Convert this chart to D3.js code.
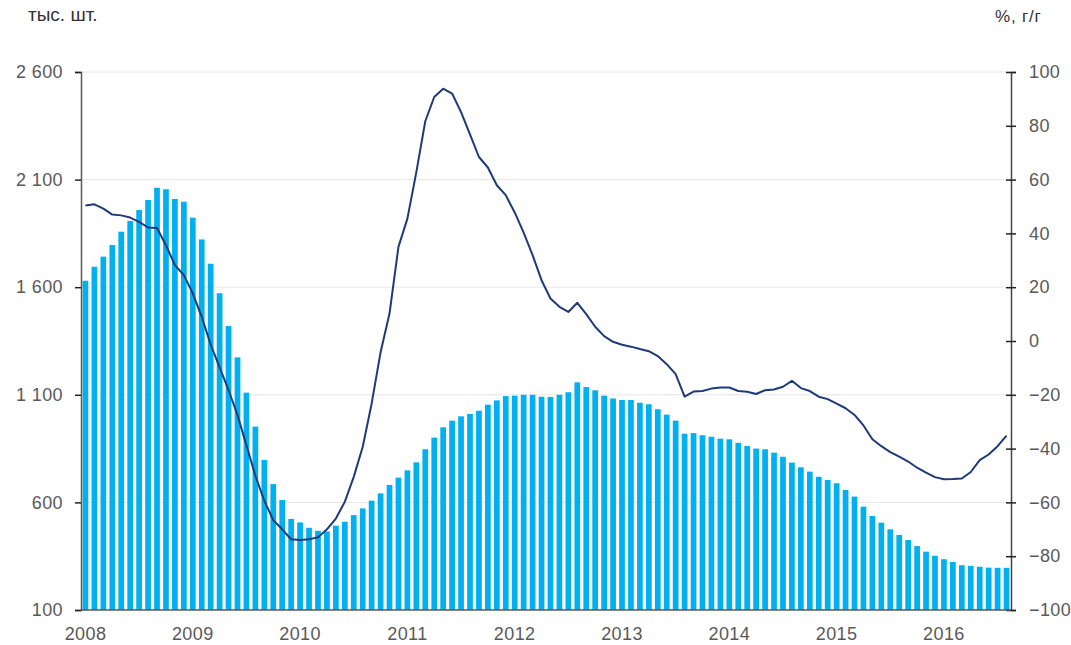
<!DOCTYPE html>
<html>
<head>
<meta charset="utf-8">
<script src="https://cdn.jsdelivr.net/npm/d3@7"></script>
<style>
  body { margin: 0; background: #fff; }
  text { font-family: "Liberation Sans", Arial, sans-serif; }
  .tick text { fill: #595959; font-size: 18px; letter-spacing: 0.4px; }
</style>
</head>
<body>
<svg id="chart" width="1071" height="645"></svg>
<script>
// monthly, 2008-01 .. 2016-08
var years = ["2008","2009","2010","2011","2012","2013","2014","2015","2016"];
var leftTicks = [100, 600, 1100, 1600, 2100, 2600];
var rightTicks = [-100, -80, -60, -40, -20, 0, 20, 40, 60, 80, 100];

// тыс. шт. (bars, left axis)
var units = [
  1630, 1695, 1742, 1796, 1858, 1908, 1959, 2005, 2062, 2055, 2010, 1997,
  1923, 1822, 1709, 1572, 1420, 1274, 1110, 952, 797, 685, 611, 523,
  507, 482, 468, 465, 492, 510, 541, 572, 608, 642, 681, 715,
  749, 786, 847, 901, 949, 980, 1000, 1011, 1026, 1054, 1074, 1094,
  1096, 1100, 1100, 1091, 1090, 1100, 1112, 1158, 1136, 1121, 1096, 1083,
  1076, 1076, 1063, 1056, 1033, 1008, 980, 919, 922, 912, 905, 896,
  893, 877, 862, 850, 847, 831, 812, 785, 763, 743, 719, 704,
  689, 658, 627, 580, 537, 506, 475, 449, 425, 397, 371, 352,
  336, 323, 308, 305, 301, 297, 296, 296
];

// %, г/г (line, right axis)
var growth = [
  50.4, 50.8, 49.2, 47.0, 46.7, 45.9, 44.3, 42.2, 42.0, 35.6, 28.2, 24.5,
  17.7, 9.0, -1.3, -9.8, -18.3, -27.5, -38.8, -50.1, -59.4, -66.6, -70.0, -73.7,
  -74.0, -73.7, -73.0, -70.0, -66.0, -59.8, -50.5, -39.4, -23.3, -4.2, 10.2, 35.0,
  45.5, 62.8, 81.7, 90.7, 93.8, 92.0, 85.1, 76.8, 68.4, 64.5, 57.9, 54.2,
  47.8, 40.3, 31.9, 22.6, 15.8, 12.7, 10.8, 14.2, 10.0, 5.3, 1.8, -0.3,
  -1.4, -2.1, -3.0, -3.8, -5.6, -8.6, -12.3, -20.7, -18.8, -18.6, -17.7, -17.3,
  -17.3, -18.6, -18.9, -19.7, -18.3, -18.0, -17.0, -14.8, -17.5, -18.6, -20.7, -21.6,
  -23.3, -25.0, -27.5, -31.4, -36.5, -39.1, -41.3, -43.0, -44.8, -47.1, -48.9, -50.6,
  -51.4, -51.3, -51.1, -48.7, -44.3, -42.2, -39.1, -35.2
];

var months = units.map(function(d, i) { return i; });

var svg = d3.select("#chart"),
    margin = {top: 72, right: 60, bottom: 35, left: 81},
    width = +svg.attr("width") - margin.left - margin.right,
    height = +svg.attr("height") - margin.top - margin.bottom;

var x = d3.scaleBand().domain(months).range([0, width]).paddingInner(0.36).paddingOuter(0.18),
    yL = d3.scaleLinear().domain([100, 2600]).range([height, 0]),
    yR = d3.scaleLinear().domain([-100, 100]).range([height, 0]);

var g = svg.append("g")
    .attr("transform", "translate(" + margin.left + "," + margin.top + ")");

// gridlines
g.selectAll(".grid")
  .data(leftTicks.slice(1))
  .enter().append("line")
    .attr("class", "grid")
    .attr("x1", 0)
    .attr("x2", width)
    .attr("y1", function(d) { return yL(d); })
    .attr("y2", function(d) { return yL(d); })
    .attr("stroke", "#e6e6e6")
    .attr("stroke-width", 1);

// bars
g.selectAll(".bar")
  .data(units)
  .enter().append("rect")
    .attr("class", "bar")
    .attr("x", function(d, i) { return x(i); })
    .attr("y", function(d) { return yL(d); })
    .attr("width", x.bandwidth())
    .attr("height", function(d) { return height - yL(d); })
    .attr("fill", "#00b0f0");

// line
var line = d3.line()
    .x(function(d, i) { return x(i) + x.bandwidth() / 2; })
    .y(function(d) { return yR(d); });

g.append("path")
  .datum(growth)
  .attr("d", line)
  .attr("fill", "none")
  .attr("stroke", "#1f3a78")
  .attr("stroke-width", 2)
  .attr("stroke-linejoin", "round");

// left axis
var axL = g.append("g")
  .call(d3.axisLeft(yL).tickValues(leftTicks).tickSize(6).tickPadding(12)
    .tickFormat(function(d) { return d3.format(",")(d).replace(",", " "); }));
axL.select(".domain").attr("stroke", "#595959").attr("stroke-width", 1.5);
axL.selectAll(".tick line").attr("stroke", "#222").attr("stroke-width", 1.5);

// right axis, ticks cross the line
var axR = g.append("g")
  .attr("transform", "translate(" + width + ",0)")
  .call(d3.axisRight(yR).tickValues(rightTicks).tickSize(5).tickPadding(13));
axR.select(".domain").attr("stroke", "#444").attr("stroke-width", 1.5);
axR.selectAll(".tick line").attr("x1", -5).attr("stroke", "#222").attr("stroke-width", 1.5);

// bottom line + year labels
g.append("line")
  .attr("x1", 0).attr("x2", width)
  .attr("y1", height).attr("y2", height)
  .attr("stroke", "#595959").attr("stroke-width", 1.5);

g.selectAll(".year")
  .data(years)
  .enter().append("text")
    .attr("class", "year")
    .attr("x", function(d, i) { return x(i * 12) + x.bandwidth() / 2; })
    .attr("y", height + 30)
    .attr("text-anchor", "middle")
    .attr("fill", "#595959")
    .attr("font-size", "18px")
    .attr("letter-spacing", "0.4px")
    .text(function(d) { return d; });

// unit labels
svg.append("text")
  .attr("x", 28).attr("y", 21)
  .attr("fill", "#333")
  .attr("font-size", "19px")
  .text("тыс. шт.");

svg.append("text")
  .attr("x", 995).attr("y", 22)
  .attr("fill", "#333")
  .attr("font-size", "17px")
  .attr("letter-spacing", "0.8px")
  .text("%, г/г");
</script>
</body>
</html>
